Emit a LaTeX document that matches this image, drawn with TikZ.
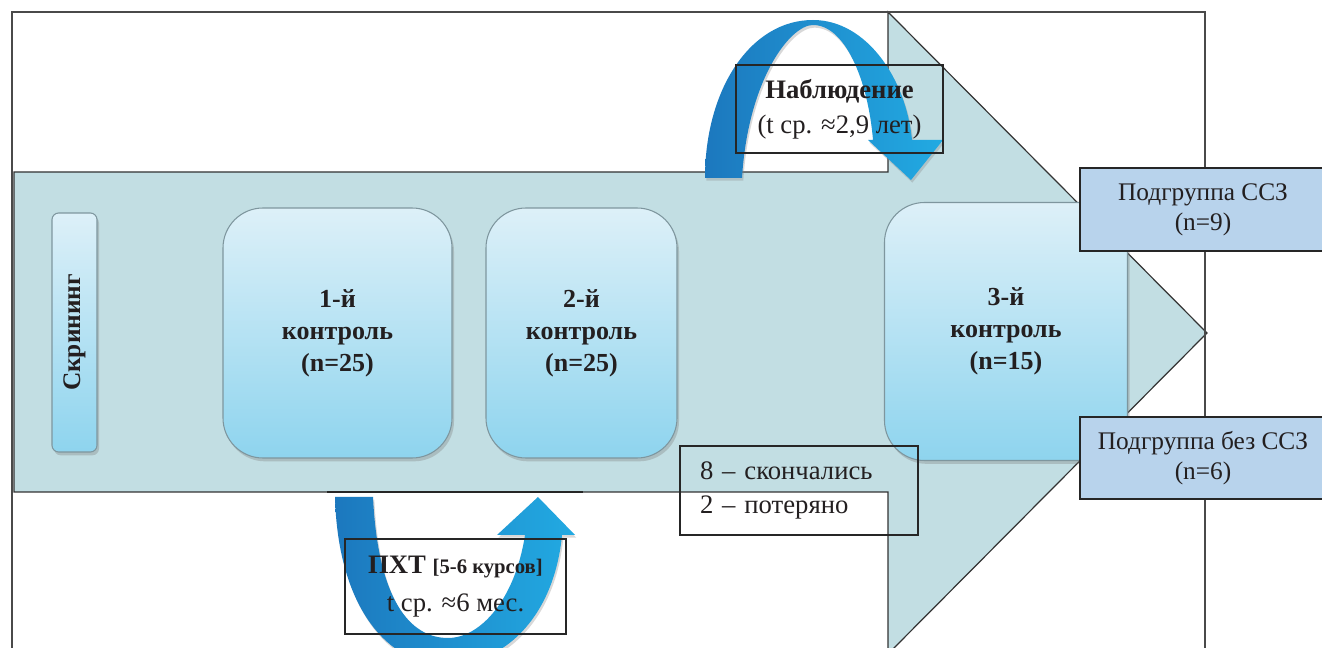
\documentclass[tikz,border=0pt]{standalone}
\usepackage{fontspec}
\setmainfont{Liberation Serif}
\usetikzlibrary{shadows}
\definecolor{bodyfill}{HTML}{C2DEE3}
\definecolor{linec}{HTML}{4A4A4A}
\definecolor{ctrltop}{HTML}{DDF0F8}
\definecolor{ctrlbot}{HTML}{8ED4EE}
\definecolor{ctrlline}{HTML}{7E969E}
\definecolor{subfill}{HTML}{B8D3EC}
\definecolor{arrdark}{HTML}{1C78BE}
\definecolor{arrlight}{HTML}{22AAE2}
\definecolor{textc}{HTML}{231F20}
\begin{document}
\begin{tikzpicture}[x=0.75pt,y=-0.75pt,
  frameline/.style={draw=linec,line width=1pt},
  bodyarrow/.style={fill=bodyfill,draw=black!80,line width=0.9pt},
  ctrlbox/.style={draw=ctrlline,line width=0.8pt,top color=ctrltop,bottom color=ctrlbot,
    rounded corners=30pt,drop shadow={opacity=0.35,shadow xshift=1.5pt,shadow yshift=-2.5pt},
    align=center,text=textc,inner sep=0pt,font=\fontsize{19.5}{24}\selectfont\bfseries},
  screenbox/.style={ctrlbox,rounded corners=5pt},
  subbox/.style={draw=black!85,line width=0.9pt,fill=subfill,align=center,text=textc,inner sep=0pt,
    minimum width=184.5pt,font=\fontsize{19}{22.5}\selectfont},
  notebox/.style={draw=black!85,line width=0.8pt,inner sep=0pt,text=textc,font=\fontsize{20}{26}\selectfont},
  curvearrow/.style={left color=arrdark,right color=arrlight,
    drop shadow={opacity=0.3,shadow xshift=1pt,shadow yshift=-2pt}}
]
\useasboundingbox (0,0) rectangle (1322,648);
\fill[white] (0,0) rectangle (1322,648);

% big arrow (body + head)
\path[bodyarrow] (14,172) -- (888,172) -- (888,12) -- (1207,333) -- (888,654) -- (888,492) -- (14,492) -- cycle;
% frame
\draw[frameline] (12,660) -- (12,12) -- (1205,12) -- (1205,660);
\draw[black!85,line width=1.6pt] (327,492) -- (583,492);

% curved arrows
\path[curvearrow] (705,178) .. controls (705,90) and (750,20) .. (813,20)
  .. controls (866,20) and (906,78) .. (912,140) -- (943,140) -- (911,180) -- (868,140) -- (873,140)
  .. controls (868,80) and (845,25) .. (813,25)
  .. controls (790,25) and (748,80) .. (742,178) -- cycle;
\path[curvearrow] (335,497) .. controls (338,610) and (390,665) .. (445,665)
  .. controls (510,665) and (555,610) .. (562,535) -- (575,535) -- (538,497) -- (497,535) -- (525,535)
  .. controls (515,600) and (480,638) .. (448,638)
  .. controls (410,638) and (378,600) .. (373,497) -- cycle;

% control boxes
\node[screenbox,minimum width=33.75pt,minimum height=179.25pt] (scr) at (74.5,332.5) {};
\node[rotate=90,text=textc,font=\fontsize{19}{22}\selectfont\bfseries] (scrtext) at (scr.center) {Скрининг};
\node[ctrlbox,minimum width=171.75pt,minimum height=187.5pt] (c1) at (337.5,333) {1-й\\контроль\\(n=25)};
\node[ctrlbox,minimum width=143.25pt,minimum height=187.5pt] (c2) at (581.5,333) {2-й\\контроль\\(n=25)};
\node[ctrlbox,minimum width=182.25pt,minimum height=193.5pt] (c3) at (1006,331.5) {3-й\\контроль\\(n=15)};

% subgroups
\node[subbox,minimum height=62.25pt] (s1) at (1203,209.5) {Подгруппа ССЗ\\(n=9)};
\node[subbox,minimum height=61.5pt] (s2) at (1203,458) {Подгруппа без ССЗ\\(n=6)};

% notes
\node[notebox,align=center,minimum width=155.25pt,minimum height=66pt] (obs) at (839.5,109)
  {\textbf{Наблюдение}\\(t ср. ≈2,9 лет)};
\node[notebox,align=center,minimum width=165.75pt,minimum height=71.25pt] (pxt) at (455.5,586.5)
  {\textbf{ПХТ} {\fontsize{15.5}{18}\selectfont\bfseries [5-6 курсов]}\\[2pt]t ср. ≈6 мес.};
\node[notebox,align=left,text width=148.5pt,inner xsep=15pt,minimum height=66.75pt] (loss) at (799,490.5)
  {8 – скончались\\2 – потеряно};
\end{tikzpicture}
\end{document}
